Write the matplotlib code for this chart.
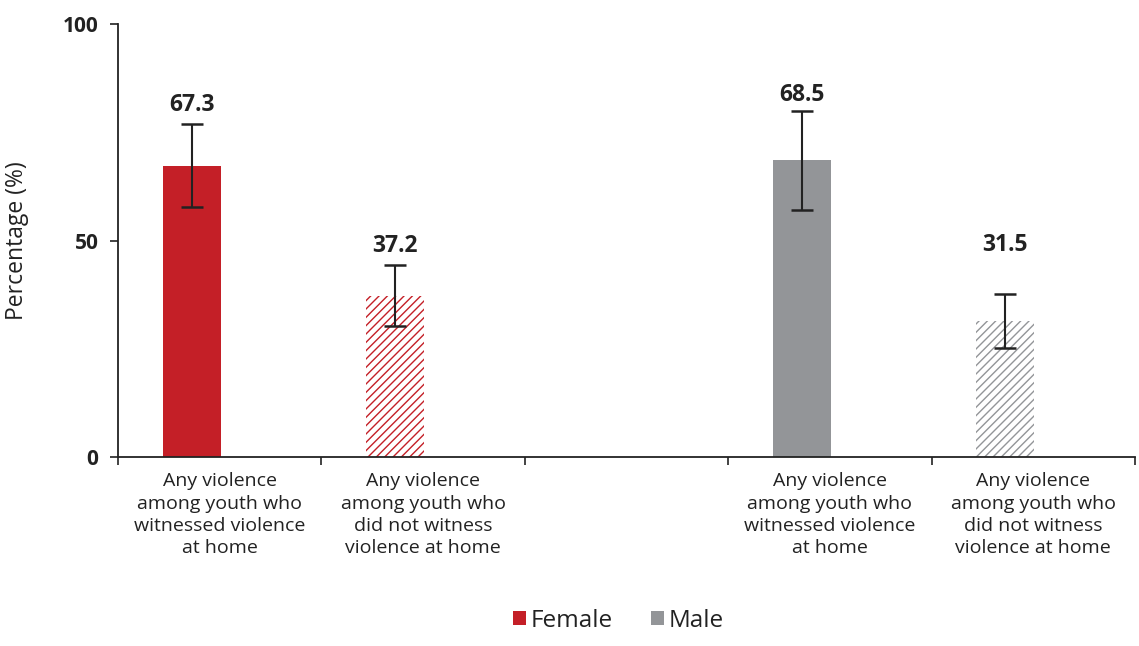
import matplotlib
matplotlib.use("Agg")
import matplotlib.pyplot as plt
from matplotlib.patches import Patch
import numpy as np

# Data
categories = [
    "Any violence\namong youth who\nwitnessed violence\nat home",
    "Any violence\namong youth who\ndid not witness\nviolence at home",
    "",
    "Any violence\namong youth who\nwitnessed violence\nat home",
    "Any violence\namong youth who\ndid not witness\nviolence at home",
]
bar_slots = [0, 1, 3, 4]
values = [67.3, 37.2, 68.5, 31.5]
err_low = [57.7, 30.3, 57.0, 25.2]
err_high = [76.9, 44.3, 79.9, 37.6]
groups = ["Female", "Female", "Male", "Male"]
hatched = [False, True, False, True]
value_labels = ["67.3", "37.2", "68.5", "31.5"]
y_ticks = [0, 50, 100]

colors = {"Female": "#c41f27", "Male": "#939598"}
label_heights = [81.3, 48.7, 83.6, 49.0]

plt.rcParams['font.family'] = ['Open Sans', 'DejaVu Sans']
plt.rcParams['hatch.linewidth'] = 1.0

fig = plt.figure(figsize=(11.39, 6.46), dpi=100)
ax = fig.add_axes([0.1036, 0.2926, 0.8929, 0.6702])

offset = -0.138
width = 0.285
for slot, v, lo, hi, g, h, lab, ly in zip(bar_slots, values, err_low, err_high,
                                           groups, hatched, value_labels, label_heights):
    x = slot + offset
    c = colors[g]
    if h:
        ax.bar(x, v, width=width, facecolor="white", edgecolor=c, hatch="////",
               linewidth=0, zorder=2)
    else:
        ax.bar(x, v, width=width, color=c, linewidth=0, zorder=2)
    ax.errorbar(x, v, yerr=[[v - lo], [hi - v]], fmt="none", ecolor="#222222",
                elinewidth=1.5, capsize=8, capthick=1.8, zorder=3)
    ax.text(x, ly, lab, ha="center", va="center", fontsize=16.5, fontweight="bold",
            color="#222222")

ax.set_xlim(-0.5, 4.5)
ax.set_ylim(0, 100)
ax.set_yticks(y_ticks)
ax.set_yticklabels([str(t) for t in y_ticks], fontsize=15, fontweight="bold", color="#222222")
ax.tick_params(axis="y", length=6, width=1.2, pad=8, color="#222222")

# Category boundaries as major ticks, labels centered in each slot
ax.set_xticks(np.arange(-0.5, 5.0, 1.0))
ax.set_xticklabels([])
ax.set_xticks(np.arange(0, 5), minor=True)
ax.set_xticklabels(categories, minor=True, fontsize=14, color="#222222", linespacing=1.31)
ax.tick_params(axis="x", which="major", length=6, width=1.2, color="#222222")
ax.tick_params(axis="x", which="minor", length=0, pad=11)

for s in ["top", "right"]:
    ax.spines[s].set_visible(False)
for s in ["left", "bottom"]:
    ax.spines[s].set_linewidth(1.3)
    ax.spines[s].set_color("#222222")

ax.set_ylabel("Percentage (%)", fontsize=16.5, color="#222222")
ax.yaxis.set_label_coords(-0.0875, 0.5)

handles = [Patch(facecolor=colors["Female"], label="Female"),
           Patch(facecolor=colors["Male"], label="Male")]
fig.legend(handles=handles, loc="center", bbox_to_anchor=(0.543, 0.039), ncol=2,
           frameon=False, fontsize=17.5, handlelength=0.5, handleheight=0.5,
           handletextpad=0.2, columnspacing=1.6, labelcolor="#222222")

fig.savefig("out.png", dpi=100)
